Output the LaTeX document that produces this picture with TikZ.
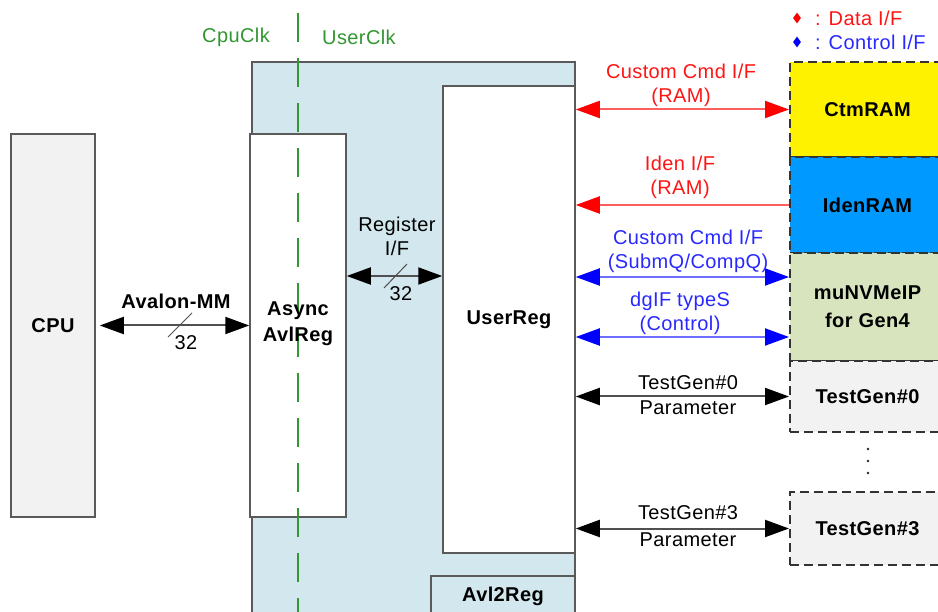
\documentclass[tikz,border=0pt]{standalone}
\usepackage{fontspec}
\setmainfont{Liberation Sans}[LetterSpace=2]
\usetikzlibrary{arrows.meta,shapes.geometric}
\definecolor{boxline}{RGB}{90,90,90}
\definecolor{grayfill}{RGB}{242,242,242}
\definecolor{lightblue}{RGB}{210,232,238}
\definecolor{ramblue}{RGB}{0,153,255}
\definecolor{ipgreen}{RGB}{215,228,189}
\definecolor{clkgreen}{RGB}{50,150,50}
\definecolor{redtxt}{RGB}{255,20,20}
\definecolor{redline}{RGB}{255,95,95}
\definecolor{bluetxt}{RGB}{40,40,255}
\definecolor{blueline}{RGB}{110,110,255}
\definecolor{blkline}{RGB}{80,80,80}
\tikzset{
  blk/.style={draw=boxline, line width=1.5pt, rectangle, inner sep=0pt, align=center, font=\bfseries\fontsize{20}{26}\selectfont},
  extbox/.style={draw=black!80, line width=2pt, dash pattern=on 9pt off 5pt, rectangle, inner sep=0pt, align=center, font=\bfseries\fontsize{20}{28}\selectfont},
  lbl/.style={inner sep=0pt, align=center, font=\fontsize{20}{24}\selectfont},
  redboth/.style={draw=redline, line width=2pt, {Triangle[length=24pt,width=17pt,fill=red,color=red]}-{Triangle[length=24pt,width=17pt,fill=red,color=red]}},
  redleft/.style={draw=redline, line width=2pt, -{Triangle[length=24pt,width=17pt,fill=red,color=red]}},
  blueboth/.style={draw=blueline, line width=2pt, {Triangle[length=24pt,width=17pt,fill=blue,color=blue]}-{Triangle[length=24pt,width=17pt,fill=blue,color=blue]}},
  blkboth/.style={draw=blkline, line width=2pt, {Triangle[length=24pt,width=17pt,fill=black,color=black]}-{Triangle[length=24pt,width=17pt,fill=black,color=black]}},
  slash/.style={draw=blkline, line width=1pt},
  clkline/.style={draw=clkgreen, line width=1.5pt, dash pattern=on 29pt off 16pt},
}
\begin{document}
\begin{tikzpicture}[x=1pt,y=-1pt]
\useasboundingbox (0,0) rectangle (938,612);
% big Avl2Reg region
\filldraw[fill=lightblue, draw=boxline, line width=1.5pt] (252,640) -- (252,62) -- (575,62) -- (575,640);
\node[lbl, text=clkgreen] (cpuclk) at (236,37) {CpuClk};
\node[lbl, text=clkgreen] (userclk) at (359,37) {UserClk};
% blocks
\node[blk, fill=grayfill, minimum width=84pt, minimum height=383pt] (cpu) at (53,325.5) {CPU};
\node[blk, fill=white, minimum width=96pt, minimum height=383pt] (async) at (298,325.5) {};
% clock domain line
\draw[clkline] (298,13) -- (298,620);
\node[lbl, font=\bfseries\fontsize{20}{26}\selectfont] (asynclbl) at (298,324) {Async\\AvlReg};
\node[blk, fill=white, minimum width=132pt, minimum height=467pt] (userreg) at (509,319.5) {UserReg};
\node[blk, fill=lightblue, minimum width=144pt, minimum height=40pt] (avl2reg) at (503,596) {Avl2Reg};
% external blocks
\node[extbox, fill=yellow, minimum width=155pt, minimum height=95pt] (ctm) at (867.5,109.5) {CtmRAM};
\node[extbox, fill=ramblue, minimum width=155pt, minimum height=96pt] (iden) at (867.5,205) {IdenRAM};
\node[extbox, fill=ipgreen, minimum width=155pt, minimum height=108pt] (nvme) at (867.5,307) {muNVMeIP\\for Gen4};
\node[extbox, fill=grayfill, minimum width=155pt, minimum height=71pt] (tg0) at (867.5,396.5) {TestGen\#0};
\node[extbox, fill=grayfill, minimum width=155pt, minimum height=73pt] (tg3) at (867.5,528.5) {TestGen\#3};
\fill[black!85] (868,449) circle (1.3pt) (868,461) circle (1.3pt) (868,473) circle (1.3pt);
% legend
\node[diamond, fill=red, inner sep=0pt, minimum width=8pt, minimum height=11pt] (dRed) at (797,18) {};
\node[diamond, fill=blue, inner sep=0pt, minimum width=8pt, minimum height=11pt] (dBlue) at (797,42) {};
\node[lbl, text=redtxt, anchor=west] (legData) at (815,18) {: Data I/F};
\node[lbl, text=bluetxt, anchor=west] (legCtl) at (815,42) {: Control I/F};
% CPU <-> Async
\draw[blkboth, shorten <=4pt] (cpu.east) -- (async.west);
\node[lbl, font=\bfseries\fontsize{20}{24}\selectfont] (avmm) at (176,301) {Avalon-MM};
\draw[slash] (168,337) -- (192,313);
\node[lbl] (w32a) at (186,343) {32};
% Async <-> UserReg
\draw[blkboth] ([yshift=49.5pt]async.east) -- ([yshift=49.5pt]async.east -| userreg.west);
\node[lbl] (reglbl) at (397,236.5) {Register\\I/F};
\draw[slash] (384,288) -- (407,264);
\node[lbl] (w32b) at (401,294) {32};
% UserReg <-> external
\draw[redboth] (ctm.west -| userreg.east) -- (ctm.west);
\node[lbl, text=redtxt] (lctm) at (681,85) {Custom Cmd I/F\\(RAM)};
\draw[redleft] (iden.west) -- (iden.west -| userreg.east);
\node[lbl, text=redtxt] (liden) at (680,177.5) {Iden I/F\\(RAM)};
\draw[blueboth] ([yshift=30pt]nvme.west -| userreg.east) -- ([yshift=30pt]nvme.west);
\node[lbl, text=bluetxt] (lsubm) at (688,251.5) {Custom Cmd I/F\\(SubmQ/CompQ)};
\draw[blueboth] ([yshift=-30pt]nvme.west -| userreg.east) -- ([yshift=-30pt]nvme.west);
\node[lbl, text=bluetxt] (ldgif) at (680,313.5) {dgIF typeS\\(Control)};
\draw[blkboth] (tg0.west -| userreg.east) -- (tg0.west);
\node[lbl, font=\fontsize{20}{25}\selectfont] (ltg0) at (688,395.5) {TestGen\#0\\Parameter};
\draw[blkboth] (tg3.west -| userreg.east) -- (tg3.west);
\node[lbl, font=\fontsize{20}{27}\selectfont] (ltg3) at (688,526.5) {TestGen\#3\\Parameter};
\end{tikzpicture}
\end{document}
